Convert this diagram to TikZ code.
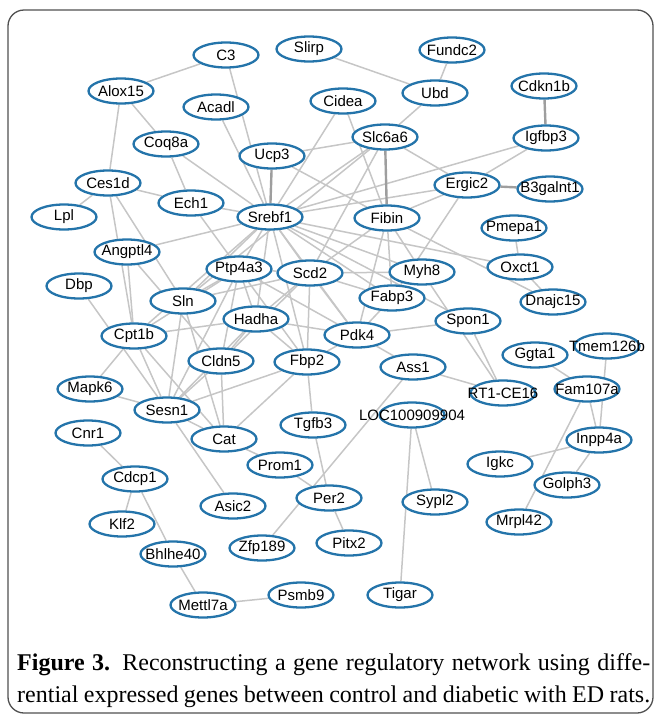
\documentclass[tikz,border=0pt]{standalone}
\usepackage{fontspec}
\setmainfont{Liberation Serif}
\newfontfamily\genefont{Liberation Sans}
\usetikzlibrary{shapes.geometric}
\definecolor{geneblue}{RGB}{36,116,170}
\definecolor{edgegray}{RGB}{198,198,198}
\definecolor{framegray}{RGB}{80,80,80}
\pgfdeclarelayer{bg}
\pgfsetlayers{bg,main}
\tikzset{
  gene/.style={ellipse, draw=geneblue, line width=2.3pt, fill=white,
    minimum width=65pt, minimum height=25pt, inner sep=0pt,
    font=\genefont\fontsize{15}{15}\selectfont},
  edge/.style={draw=edgegray, line width=1.5pt},
  strongedge/.style={draw=edgegray!80!black, line width=2.4pt},
  framebox/.style={draw=framegray, line width=1.3pt, rounded corners=16pt},
  captext/.style={anchor=base west, inner sep=0pt, font=\fontsize{24}{28}\selectfont}
}
\begin{document}
\begin{tikzpicture}[x=1pt,y=-1pt]
\useasboundingbox (0,0) rectangle (657,718);
\draw[framebox] (8,10) rectangle (653,713);
\foreach \n/\px/\py/\t in {
  C3/226/55/C3, Slirp/309/49/Slirp, Fundc2/452/50/Fundc2,
  Alox15/121/91/Alox15, Acadl/216/107/Acadl, Cidea/343/101/Cidea,
  Ubd/435/93/Ubd, Cdkn1b/544/86/Cdkn1b, Coq8a/166/144/Coq8a,
  Ucp3/272/156/Ucp3, Slc6a6/385/137/Slc6a6, Igfbp3/546/138/Igfbp3,
  Ces1d/108/183/Ces1d, Ech1/191/203/Ech1, Srebf1/270/217/Srebf1,
  Ergic2/467/185/Ergic2, B3galnt1/550/189/B3galnt1, Lpl/64/217/Lpl,
  Fibin/387/218/Fibin, Pmepa1/514/228/Pmepa1, Angptl4/127/252/Angptl4,
  Ptp4a3/239/269/Ptp4a3, Scd2/310/273/Scd2, Oxct1/520/267/Oxct1,
  Dbp/79/286/Dbp, Sln/183/301/Sln, Myh8/422/272/Myh8,
  Fabp3/392/298/Fabp3, Dnajc15/553/302/Dnajc15, Hadha/256/319/Hadha,
  Spon1/468/321/Spon1, Cpt1b/134/336/Cpt1b, Pdk4/357/335/Pdk4,
  Cldn5/221/361/Cldn5, Fbp2/307/362/Fbp2, Ggta1/535/355/Ggta1,
  Tmem126b/607/346/Tmem126b, Ass1/413/367/Ass1, RT/503/393/RT1-CE16,
  Fam107a/587/389/Fam107a, Mapk6/90/389/Mapk6, Sesn1/167/410/Sesn1,
  LOC/412/415/LOC100909904, Tgfb3/313/425/Tgfb3, Cat/224/439/Cat,
  Inpp4a/599/440/Inpp4a, Cnr1/88/433/Cnr1, Prom1/280/465/Prom1,
  Igkc/500/464/Igkc, Cdcp1/135/479/Cdcp1, Golph3/567/485/Golph3,
  Per2/329/498/Per2, Asic2/233/506/Asic2, Sypl2/435/502/Sypl2,
  Klf2/122/524/Klf2, Mrpl42/519/522/Mrpl42, Pitx2/349/543/Pitx2,
  Zfp189/262/548/Zfp189, Bhlhe40/173/554/Bhlhe40, Psmb9/301/595/Psmb9,
  Tigar/400/595/Tigar, Mettl7a/203/605/Mettl7a}
  \node[gene] (\n) at (\px,\py) {\makebox[0pt]{\t}};
\begin{pgfonlayer}{bg}
\foreach \a/\b in {
  C3/Alox15, C3/Srebf1, Slirp/Ubd, Fundc2/Ubd, Ubd/Slc6a6,
  Alox15/Ces1d, Alox15/Coq8a, Coq8a/Ech1, Ech1/Ptp4a3, Coq8a/Srebf1,
  Acadl/Srebf1, Ucp3/Slc6a6, Ucp3/Fibin, Cidea/Srebf1, Cidea/Fibin,
  Slc6a6/Srebf1, Slc6a6/Scd2, Slc6a6/Sln, Slc6a6/Ergic2,
  Igfbp3/Srebf1, Igfbp3/Ergic2, Ergic2/Fibin, Ergic2/Fabp3, Srebf1/Ergic2,
  Pmepa1/Oxct1, Oxct1/Dnajc15, Srebf1/Oxct1, Fibin/Dnajc15,
  Fibin/Myh8, Fibin/Fabp3, Fibin/Pdk4, Fibin/Scd2,
  Srebf1/Ptp4a3, Srebf1/Scd2, Srebf1/Hadha, Srebf1/Fbp2, Srebf1/Pdk4,
  Srebf1/Sln, Srebf1/Angptl4, Srebf1/Cpt1b, Srebf1/Fabp3, Srebf1/Myh8,
  Ech1/Srebf1, Srebf1/Spon1, Ces1d/Lpl, Ces1d/Ech1, Ces1d/Cpt1b, Ces1d/Sln,
  Angptl4/Cpt1b, Angptl4/Cldn5, Dbp/Sesn1, Cpt1b/Hadha, Cpt1b/Sesn1,
  Cpt1b/Cat, Cpt1b/Mapk6, Cpt1b/Ptp4a3, Sln/Sesn1, Sln/Cat, Sln/Ptp4a3,
  Sln/Scd2, Mapk6/Sesn1, Sesn1/Fbp2, Sesn1/Cldn5, Sesn1/Cat, Sesn1/Asic2,
  Sesn1/Hadha, Sesn1/Ptp4a3, Cldn5/Cat, Cldn5/Ptp4a3, Cldn5/Hadha,
  Cldn5/Scd2, Cat/Fbp2, Cat/Prom1, Scd2/Fbp2, Fbp2/Tgfb3, Tgfb3/Per2,
  Prom1/Per2, Per2/Pitx2, Ass1/Zfp189, LOC/Sypl2, LOC/Tigar, Ass1/RT,
  Myh8/RT, Spon1/RT, Pdk4/Spon1, Pdk4/Fabp3, Pdk4/Scd2, Pdk4/Fbp2,
  Pdk4/Ass1, Myh8/Scd2, Hadha/Fbp2, Hadha/Ptp4a3, Hadha/Scd2, Hadha/Pdk4,
  Ptp4a3/Scd2, Ptp4a3/Fbp2, Ptp4a3/Pdk4, Scd2/Fabp3, Ggta1/Fam107a,
  Fam107a/Inpp4a, Fam107a/Mrpl42, Tmem126b/Inpp4a, Igkc/Inpp4a,
  Inpp4a/Golph3, Cnr1/Cdcp1, Cdcp1/Klf2, Cdcp1/Bhlhe40, Bhlhe40/Mettl7a,
  Mettl7a/Psmb9}
  \draw[edge] (\a) -- (\b);
\foreach \a/\b in {Cdkn1b/Igfbp3, Ucp3/Srebf1, Slc6a6/Fibin, Ergic2/B3galnt1}
  \draw[strongedge] (\a) -- (\b);
\end{pgfonlayer}
\node[captext] (cap1) at (17,670)
  {\makebox[633pt][s]{\textbf{Figure 3.} Reconstructing a gene regulatory network using diffe-}};
\node[captext] (cap2) at (17,702)
  {\makebox[633pt][s]{rential expressed genes between control and diabetic with ED rats.}};
\end{tikzpicture}
\end{document}
